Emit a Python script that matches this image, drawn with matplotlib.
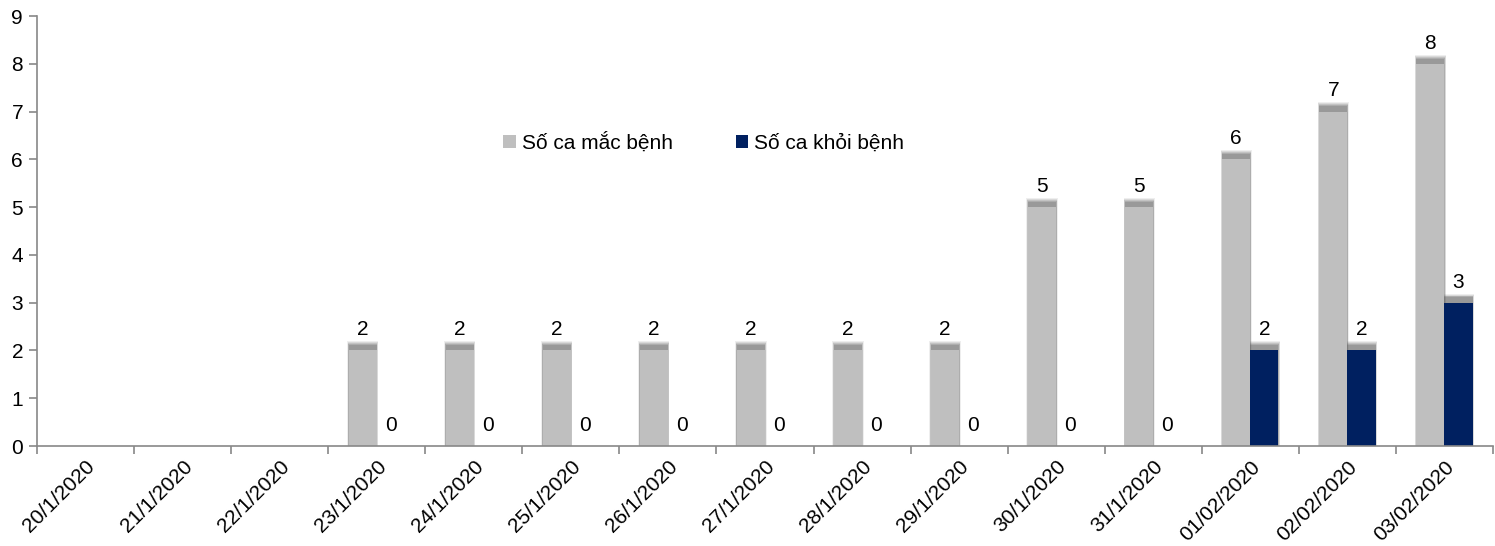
import matplotlib.pyplot as plt
from matplotlib.patches import Rectangle

plt.rcParams['font.family'] = ['Liberation Sans', 'DejaVu Sans']

# Data
dates = ["20/1/2020", "21/1/2020", "22/1/2020", "23/1/2020", "24/1/2020", "25/1/2020",
         "26/1/2020", "27/1/2020", "28/1/2020", "29/1/2020", "30/1/2020", "31/1/2020",
         "01/02/2020", "02/02/2020", "03/02/2020"]
mac_benh = [None, None, None, 2, 2, 2, 2, 2, 2, 2, 5, 5, 6, 7, 8]
khoi_benh = [None, None, None, 0, 0, 0, 0, 0, 0, 0, 0, 0, 2, 2, 3]

grey = '#BFBFBF'
navy = '#002060'
bar_width = 0.29

fig = plt.figure(figsize=(14.95, 5.46), dpi=100)
ax = fig.add_axes([37/1495, 1 - 446/546, 1456/1495, 430/546])

x = list(range(len(dates)))


def draw_shadow(xc, h):
    # soft grey shadow sitting slightly above each bar
    layers = [(0.016, 0.19, 0.10), (0.011, 0.17, 0.14), (0.007, 0.15, 0.18),
              (0.004, 0.13, 0.22), (0.0, 0.11, 0.26)]
    for grow, top, a in layers:
        ax.add_patch(Rectangle((xc - bar_width/2 - grow, 0), bar_width + 2*grow, h + top,
                               color='#606060', alpha=a, lw=0, zorder=1))


for i in x:
    if mac_benh[i]:
        draw_shadow(i - bar_width/2, mac_benh[i])
    if khoi_benh[i]:
        draw_shadow(i + bar_width/2, khoi_benh[i])

m_vals = [v if v is not None else 0 for v in mac_benh]
k_vals = [v if v is not None else 0 for v in khoi_benh]
b1 = ax.bar([i - bar_width/2 for i in x], m_vals, bar_width, color=grey, zorder=2, label='Số ca mắc bệnh')
b2 = ax.bar([i + bar_width/2 for i in x], k_vals, bar_width, color=navy, zorder=2, label='Số ca khỏi bệnh')

for i in x:
    if mac_benh[i] is not None:
        ax.annotate(str(mac_benh[i]), (i - bar_width/2, mac_benh[i]), xytext=(0, 8),
                    textcoords='offset points', ha='center', va='bottom', fontsize=15)
    if khoi_benh[i] is not None:
        ax.annotate(str(khoi_benh[i]), (i + bar_width/2, khoi_benh[i]), xytext=(0, 8),
                    textcoords='offset points', ha='center', va='bottom', fontsize=15)

ax.set_xlim(-0.5, len(dates) - 0.5)
ax.set_ylim(0, 9)
ax.set_yticks(range(0, 10))
ax.set_xticks(x)
ax.set_xticklabels(dates, rotation=45, ha='right', rotation_mode='anchor', fontsize=15)
ax.set_xticks([i - 0.5 for i in range(len(dates) + 1)], minor=True)
ax.tick_params(axis='x', which='major', length=0, pad=8)
ax.tick_params(axis='x', which='minor', length=6, color='#888888', width=1.2)
ax.tick_params(axis='y', length=6, color='#888888', width=1.2, labelsize=15, pad=4)

for s in ['top', 'right']:
    ax.spines[s].set_visible(False)
for s in ['left', 'bottom']:
    ax.spines[s].set_color('#888888')
    ax.spines[s].set_linewidth(1.2)

ax.legend(handles=[b1, b2], loc='center', bbox_to_anchor=(0.458, 0.705), ncol=2, frameon=False,
          fontsize=15, handlelength=0.6, handleheight=0.6, handletextpad=0.3, columnspacing=3.0)

plt.savefig('out.png', dpi=100)
